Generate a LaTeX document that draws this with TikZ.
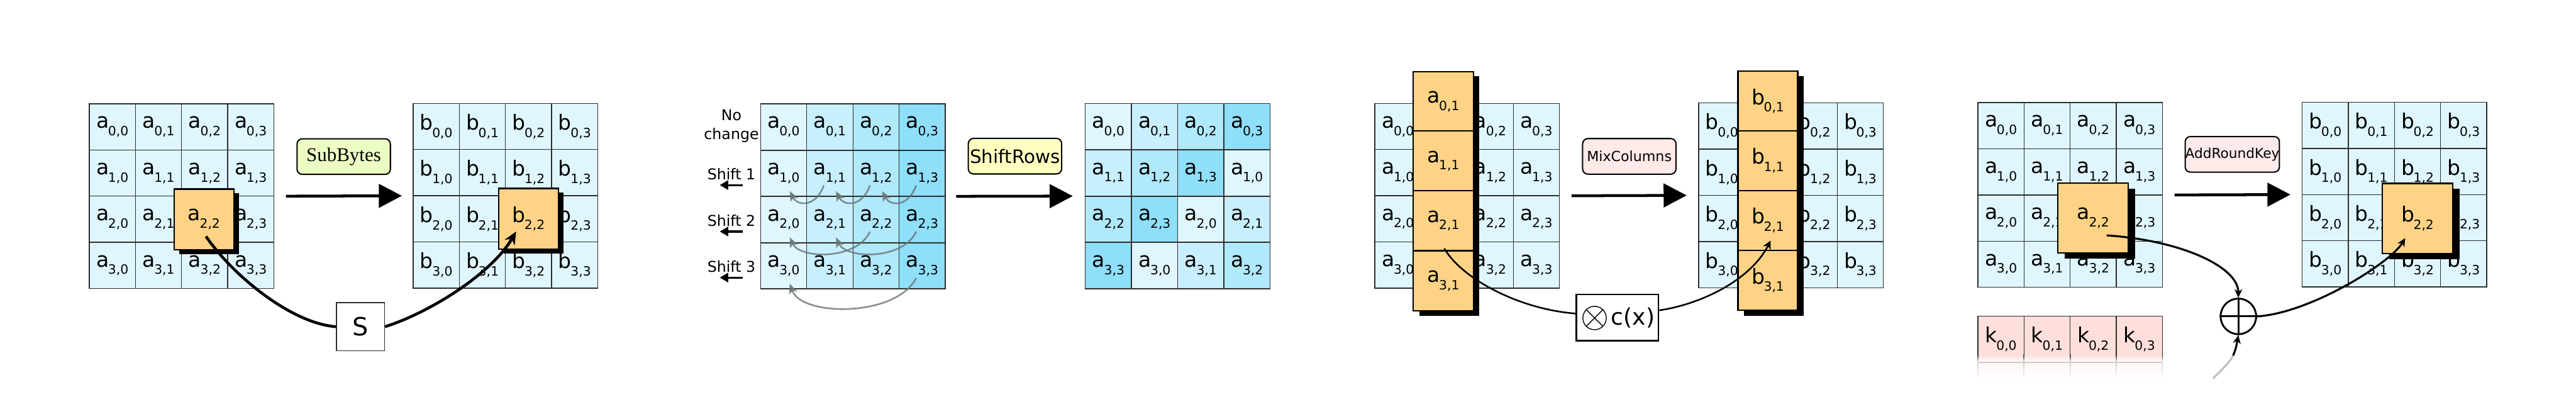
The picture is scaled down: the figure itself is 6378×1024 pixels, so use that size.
\documentclass[tikz,border=0pt]{standalone}
\usepackage{fontspec}
\setmainfont{DejaVu Sans}
\newfontfamily\timesfont{Liberation Serif}
\usetikzlibrary{arrows.meta,shadows}
\definecolor{cellfill}{RGB}{223,246,255}
\definecolor{cellline}{RGB}{45,45,45}
\definecolor{orng}{RGB}{255,211,134}
\definecolor{sbfill}{RGB}{236,253,196}
\definecolor{srfill}{RGB}{255,255,192}
\definecolor{mcfill}{RGB}{255,234,234}
\definecolor{kfill}{RGB}{255,223,219}
\definecolor{sc0}{RGB}{223,246,255}
\definecolor{sc1}{RGB}{200,239,254}
\definecolor{sc2}{RGB}{176,232,252}
\definecolor{sc3}{RGB}{143,222,250}
\definecolor{garrow}{RGB}{105,115,115}
\newcommand{\lab}[3]{{\fontsize{14.6}{16}\selectfont #1}\kern-0.6pt\raisebox{-5.2pt}{\fontsize{9}{10}\selectfont #2,#3}}
\newcommand{\stategrid}[6]{%
  \foreach \ri in {0,...,3}{\foreach \ci in {0,...,3}{%
    \pgfmathtruncatemacro\hid{and(or(#5==\ri,#5==-1),#6==\ci)}%
    \ifnum\hid=1
      \node[cell] (#1-\ri-\ci) at ({#2+(\ci+0.5)*114.25},{#3+(\ri+0.5)*114.25}) {};
    \else
      \node[cell] (#1-\ri-\ci) at ({#2+(\ci+0.5)*114.25},{#3+(\ri+0.5)*114.25}) {\lab{#4}{\ri}{\ci}};
    \fi
  }}}
\tikzset{
  cell/.style={draw=cellline, line width=0.6pt, fill=cellfill, minimum width=1.1425cm, minimum height=1.1425cm, inner sep=0pt, outer sep=0pt},
  obox/.style={draw=black, line width=0.95pt, fill=orng, inner sep=0pt, outer sep=0pt},
  oshadow/.style={drop shadow={shadow xshift=#1, shadow yshift=-#1*0.8, fill=black, opacity=1}},
  lbl/.style={draw=black, line width=0.9pt, rounded corners=3.7pt, minimum width=2.31cm, minimum height=0.88cm, inner sep=0pt},
  bigarrow/.style={line width=2pt, -{Triangle[length=16.2pt,width=16.5pt]}},
  curveA/.style={line width=2pt},
  curveB/.style={line width=1.15pt},
  curveC/.style={line width=1.4pt},
  garr/.style={draw=garrow, opacity=0.8, line width=1.15pt, -{Stealth[length=7pt,width=6pt,inset=1.5pt]}},
  smallarr/.style={line width=1.4pt, -{Triangle[length=6pt,width=6.5pt]}},
  shlbl/.style={font=\fontsize{10.5}{13.3}\selectfont, inner sep=0pt, align=center},
}
\begin{document}
\begin{tikzpicture}[x=0.01cm,y=-0.01cm]
\useasboundingbox[fill=white] (0,0) rectangle (6378,1024);

% ================= Panel 1: SubBytes =================
\stategrid{P1a}{221}{257}{a}{2}{2}
\stategrid{P1b}{1023}{256}{b}{2}{2}
\node[obox, minimum width=1.48cm, minimum height=1.50cm, oshadow=0.13cm] (P1ax) at (505,543) {\lab{a}{2}{2}};
\node[obox, minimum width=1.48cm, minimum height=1.50cm, oshadow=0.13cm] (P1bx) at (1308.5,541.5) {\lab{b}{2}{2}};
\node[lbl, fill=sbfill] (sb) at (851,387.5) {\timesfont\fontsize{13.7}{15}\selectfont SubBytes};
\draw[bigarrow] ([xshift=0.3cm]P1a-1-3.south east) -- ([xshift=-0.28cm]P1b-1-0.south west);
\node[draw=cellline, line width=0.7pt, fill=white, minimum size=1.19cm, inner sep=0pt] (sbox) at (892.5,808.5) {\fontsize{17.6}{18}\selectfont S};
\coordinate (p1s) at ([shift={(5,42)}]P1ax.center);
\coordinate (p1e) at ([shift={(-30.5,31.5)}]P1bx.center);
\draw[curveA] (p1s) .. controls (575,680) and (720,800) .. (sbox.west);
\draw[curveA, -{Stealth[length=9pt,width=8pt]}] (sbox.east) .. controls (1060,775) and (1215,680) .. (p1e);

% ================= Panel 2: ShiftRows =================
\foreach \ri in {0,...,3}{\foreach \ci in {0,...,3}{%
  \node[cell, fill=sc\ci] (P2a-\ri-\ci) at ({1883+(\ci+0.5)*114.4},{257+(\ri+0.5)*114.5}) {\lab{a}{\ri}{\ci}};
  \pgfmathtruncatemacro\si{mod(\ci+\ri,4)}%
  \node[cell, fill=sc\si] (P2b-\ri-\ci) at ({2687+(\ci+0.5)*114.4},{256+(\ri+0.5)*114.75}) {\lab{a}{\ri}{\si}};
}}
\foreach \ri in {0,1,2}{%
  \draw[cellline, line width=0.9pt] (P2a-\ri-0.south west) -- (P2a-\ri-3.south east);
  \draw[cellline, line width=0.9pt] (P2b-\ri-0.south west) -- (P2b-\ri-3.south east);
}
\node[shlbl] (nochg) at (1811,312) {No\\change};
\node[shlbl] (sh1) at (1811,431) {Shift 1};
\node[shlbl] (sh2) at (1811,546) {Shift 2};
\node[shlbl] (sh3) at (1811,660) {Shift 3};
\foreach \s in {sh1,sh2,sh3}{%
  \draw[smallarr] ([shift={(28,27)}]\s.center) -- ([shift={(-29,27)}]\s.center);
}
% gray shift arrows
\foreach \src/\dst in {1-1/1-0,1-2/1-1,1-3/1-2}{%
  \draw[garr] ([shift={(-15,30)}]P2a-\src.center) .. controls +(-19,54) and +(20,38) .. ([shift={(15,44)}]P2a-\dst.center);
}
\foreach \src/\dst in {2-2/2-0,2-3/2-1}{%
  \draw[garr] ([shift={(-15,30)}]P2a-\src.center) .. controls +(-34,72) and +(25,53) .. ([shift={(15,44)}]P2a-\dst.center);
}
\draw[garr] ([shift={(-15,30)}]P2a-3-3.center) .. controls +(-48,97) and +(30,83) .. ([shift={(15,44)}]P2a-3-0.center);
\node[lbl, fill=srfill] (sr) at (2513,386.5) {\fontsize{13}{15}\selectfont ShiftRows};
\draw[bigarrow] ([xshift=0.27cm]P2a-1-3.south east) -- ([xshift=-0.31cm]P2b-1-0.south west);

% ================= Panel 3: MixColumns =================
\stategrid{P3a}{3404}{256}{a}{-1}{1}
\stategrid{P3b}{4206}{255}{b}{-1}{1}
\fill[black] (3514,189) rectangle (3663,782);
\fill[black] (4318,188) rectangle (4466,781);
\foreach \ri/\yc in {0/251,1/398.5,2/546.5,3/695}{%
  \node[obox, minimum width=1.49cm, minimum height=1.48cm] (P3ac-\ri) at (3573.5,\yc) {\lab{a}{\ri}{1}};
  \node[obox, minimum width=1.48cm, minimum height=1.48cm] (P3bc-\ri) at (4377,\yc-1) {\lab{b}{\ri}{1}};
}
\node[lbl, fill=mcfill] (mc) at (4034,387) {\fontsize{9.8}{11}\selectfont MixColumns};
\draw[bigarrow] ([xshift=0.3cm]P3a-1-3.south east) -- ([xshift=-0.3cm]P3b-1-0.south west);
\node[draw=black, line width=1.1pt, fill=white, minimum width=2.03cm, minimum height=1.15cm, inner sep=0pt] (cxbox) at (4004.5,786) {};
\node[circle, draw=black, line width=0.6pt, minimum size=0.58cm, inner sep=0pt] (ox) at (3948,787) {};
\draw[line width=0.6pt] (ox.north west) -- (ox.south east) (ox.north east) -- (ox.south west);
\node[inner sep=0pt] (cxt) at (4043,786) {\fontsize{16}{17}\selectfont c(x)};
\coordinate (p3s) at ([shift={(2.5,68.5)}]P3ac-2.center);
\coordinate (p3e) at ([shift={(7,50)}]P3bc-2.center);
\draw[curveB] (p3s) .. controls (3620,690) and (3760,765) .. ([yshift=0.1cm]cxbox.west);
\draw[curveB, -{Stealth[length=6pt,width=6pt]}] ([yshift=0.18cm]cxbox.east) .. controls (4200,755) and (4330,700) .. (p3e);

% ================= Panel 4: AddRoundKey =================
\stategrid{P4a}{4897}{254}{a}{2}{2}
\stategrid{P4b}{5700}{253}{b}{2}{2}
\node[obox, minimum width=1.74cm, minimum height=1.73cm, oshadow=0.17cm] (P4ax) at (5182.5,540) {\lab{a}{2}{2}};
\node[obox, minimum width=1.75cm, minimum height=1.74cm, oshadow=0.17cm] (P4bx) at (5985.5,541) {\lab{b}{2}{2}};
\node[lbl, fill=mcfill] (ark) at (5527,382) {\fontsize{9.6}{11}\selectfont AddRoundKey};
\draw[bigarrow] ([xshift=0.3cm]P4a-1-3.south east) -- ([xshift=-0.29cm]P4b-1-0.south west);
% key row with fading reflection
\fill[kfill] (4897,782) rectangle (5354,878);
\shade[top color=kfill, bottom color=white] (4897,877.5) rectangle (5354,897);
\shade[top color=kfill!30, bottom color=white] (4897,898) rectangle (5354,937);
\draw[cellline, line width=0.6pt] (4897,878) -- (4897,782) -- (5354,782) -- (5354,878);
\foreach \i in {0,...,3}{%
  \node[inner sep=0pt] (k-\i) at ({4897+(\i+0.5)*114.25},839) {\lab{k}{0}{\i}};
}
\foreach \i in {1,2,3}{\draw[cellline, line width=0.6pt] ({4897+\i*114.25},782) -- ({4897+\i*114.25},878);}
\foreach \i in {0,...,4}{%
  \shade[top color=cellline, bottom color=white] ({4897+\i*114.25-1},878) rectangle ({4897+\i*114.25+1},897);
  \shade[top color=black!18, bottom color=white] ({4897+\i*114.25-1},898) rectangle ({4897+\i*114.25+1},937);
}
\draw[black!20, line width=0.6pt] (4897,897) -- (5354,897);
\node[circle, draw=black, line width=1.3pt, minimum size=0.88cm, inner sep=0pt] (xor) at (5542,783) {};
\draw[line width=1.3pt] (xor.north) -- (xor.south) (xor.west) -- (xor.east);
\coordinate (p4s) at ([shift={(33.5,42.5)}]P4ax.center);
\coordinate (p4e) at ([shift={(-30.5,48)}]P4bx.center);
\coordinate (kin) at (5529,880);
\coordinate (kfade) at (5479,937);
\draw[curveC, -{Stealth[length=6pt,width=5.5pt]}] (p4s) .. controls (5400,595) and (5542,660) .. (xor.north);
\draw[curveC, -{Stealth[length=6pt,width=5.5pt]}] (xor.east) .. controls (5720,775) and (5920,650) .. (p4e);
\draw[line width=1.4pt, black!25] (kfade) .. controls (5500,915) and (5520,898) .. (kin);
\draw[curveC, -{Stealth[length=6pt,width=5.5pt]}] (kin) .. controls (5536,862) .. (xor.south);
\end{tikzpicture}
\end{document}
